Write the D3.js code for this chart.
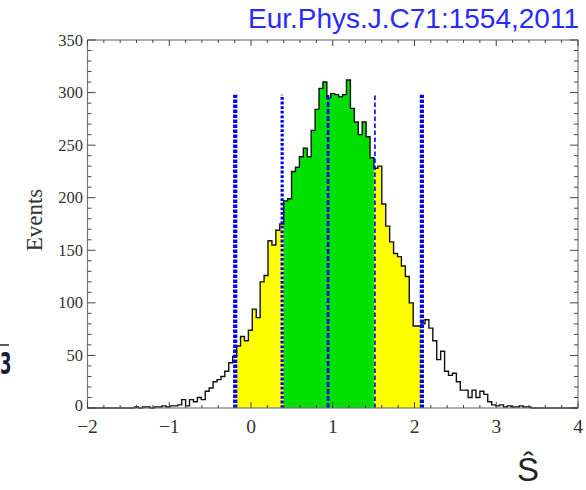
<!DOCTYPE html>
<html><head><meta charset="utf-8">
<script src="https://cdn.jsdelivr.net/npm/d3@7"></script>
<style>body{margin:0;background:#fff}svg{display:block}</style>
</head><body>
<svg id="c" width="586" height="490"></svg>
<script>
// ---- data ----
const binStart = -2;
const binWidth = 0.048;
const counts = [
  0,0,0,0,0,0,0,0,0,0,0,0,
  1,0,1,1,0,1,1,2,1,2,2,3,8,2,8,6,10,8,16,19,25,27,30,35,43,49,
  59,68,64,74,94,86,120,126,159,155,169,175,
  197,199,225,229,239,247,239,264,284,304,310,295,299,298,296,298,312,285,272,260,272,258,238,
  228,230,194,173,158,147,144,135,125,100,78,78,
  80,84,76,64,46,54,35,31,33,25,17,17,10,17,10,16,13,6,3,2,3,1,2,1,1,2,1,1,
  0,0,0,0,0,0,0,0,0,0,0,0
];
const xTickLabels = [-2, -1, 0, 1, 2, 3, 4];
const yTickLabels = [0, 50, 100, 150, 200, 250, 300, 350];
const sigmaLines = [-0.193, 0.381, 0.943, 1.516, 2.090]; // mu-2s, mu-s, mu, mu+s, mu+2s
const lineTop = 298;
const titleText = "Eur.Phys.J.C71:1554,2011";
const xLabel = "\u015C";
const yLabel = "Events";

// ---- layout ----
const svg = d3.select("#c");
const L = 87.5, R = 578, T = 40, B = 408;
const x = d3.scaleLinear().domain([-2, 4]).range([L, R]);
const y = d3.scaleLinear().domain([0, 350]).range([B, T]);

const bins = counts.map((c, i) => ({
  x0: binStart + i * binWidth,
  x1: binStart + (i + 1) * binWidth,
  c
}));

// group bins inside the 2-sigma band into contiguous colour runs
const groups = [];
bins.forEach(b => {
  const mid = (b.x0 + b.x1) / 2;
  if (mid < sigmaLines[0] || mid > sigmaLines[4]) return;
  const color = (mid >= sigmaLines[1] && mid <= sigmaLines[3]) ? "#00e000" : "#ffff00";
  const last = groups[groups.length - 1];
  if (last && last.color === color) last.bins.push(b);
  else groups.push({color, bins: [b]});
});
const area = d3.area()
  .x(d => x(d.x)).y0(y(0)).y1(d => y(d.c))
  .curve(d3.curveStepAfter);
groups.forEach(g => {
  const pts = g.bins.map(b => ({x: b.x0, c: b.c}));
  const lb = g.bins[g.bins.length - 1];
  pts.push({x: lb.x1, c: lb.c});
  svg.append("path").attr("d", area(pts)).attr("fill", g.color);
});

// histogram outline
let d = `M${x(bins[0].x0)},${y(0)}`;
bins.forEach(b => { d += `V${y(b.c)}H${x(b.x1)}`; });
d += `V${y(0)}`;
svg.append("path").attr("d", d).attr("fill", "none")
  .attr("stroke", "#111").attr("stroke-width", 1.4);

// sigma lines
const lineStyle = [
  {w: 4.2, dash: "3.4,1.6"},
  {w: 3.2, dash: "2.8,1.8"},
  {w: 2.6, dash: "5,2"},
  {w: 1.6, dash: "4.5,2.5"},
  {w: 4.2, dash: "3.4,1.6"}
];
sigmaLines.forEach((v, i) => {
  svg.append("line")
    .attr("x1", x(v)).attr("x2", x(v))
    .attr("y1", y(0)).attr("y2", y(lineTop))
    .attr("stroke", "#0000f0")
    .attr("stroke-width", lineStyle[i].w)
    .attr("stroke-dasharray", lineStyle[i].dash);
});

// frame
svg.append("rect").attr("x", L).attr("y", T).attr("width", R - L).attr("height", B - T)
  .attr("fill", "none").attr("stroke", "#777").attr("stroke-width", 1.2);

// ticks
const tickColor = "#444";
const xMinor = d3.range(-2, 4.0001, 0.2);
const yMinor = d3.range(0, 350.001, 10);
const tg = svg.append("g").attr("stroke", tickColor).attr("stroke-width", 1);
xMinor.forEach(v => {
  const major = Math.abs(v - Math.round(v)) < 1e-6;
  const len = major ? 6 : 3;
  tg.append("line").attr("x1", x(v)).attr("x2", x(v)).attr("y1", B).attr("y2", B - len);
  tg.append("line").attr("x1", x(v)).attr("x2", x(v)).attr("y1", T).attr("y2", T + len);
});
yMinor.forEach(v => {
  const major = v % 50 === 0;
  const len = major ? 8 : 4;
  tg.append("line").attr("x1", L).attr("x2", L + len).attr("y1", y(v)).attr("y2", y(v));
  tg.append("line").attr("x1", R).attr("x2", R - len).attr("y1", y(v)).attr("y2", y(v));
});

// tick labels
const fmt = d3.format("d");
svg.append("g").selectAll("text").data(xTickLabels).join("text")
  .attr("x", d => x(d)).attr("y", 433)
  .attr("text-anchor", "middle")
  .attr("font-family", "Liberation Serif, serif").attr("font-size", 19.5)
  .attr("fill", "#333")
  .text(d => fmt(d));
svg.append("g").selectAll("text").data(yTickLabels).join("text")
  .attr("x", 83).attr("y", d => Math.min(y(d) + 5.5, 410.5))
  .attr("text-anchor", "end")
  .attr("font-family", "Liberation Serif, serif").attr("font-size", 16.5)
  .attr("fill", "#333")
  .text(d => fmt(d));

// axis titles
svg.append("text")
  .attr("transform", "translate(42,220) rotate(-90)")
  .attr("text-anchor", "middle")
  .attr("font-family", "Liberation Serif, serif").attr("font-size", 23)
  .attr("fill", "#333")
  .text(yLabel);
svg.append("text")
  .attr("x", 528).attr("y", 481)
  .attr("text-anchor", "middle")
  .attr("font-family", "Liberation Sans, Arial, sans-serif").attr("font-size", 33)
  .attr("fill", "#222")
  .text(xLabel);

// title
svg.append("text")
  .attr("x", 579).attr("y", 28)
  .attr("text-anchor", "end")
  .attr("font-family", "Liberation Sans, Arial, sans-serif").attr("font-size", 28)
  .attr("fill", "#2a2aff")
  .text(titleText);

// fragment of neighbouring content at the left edge
svg.append("line").attr("x1", 0).attr("x2", 9).attr("y1", 345).attr("y2", 345)
  .attr("stroke", "#222").attr("stroke-width", 1.5);
svg.append("text")
  .attr("transform", "translate(0,374) scale(0.55,1)")
  .attr("font-family", "DejaVu Sans, sans-serif").attr("font-weight", "bold").attr("font-size", 30)
  .attr("fill", "#1c1c3c")
  .text("3");
</script>
</body></html>
